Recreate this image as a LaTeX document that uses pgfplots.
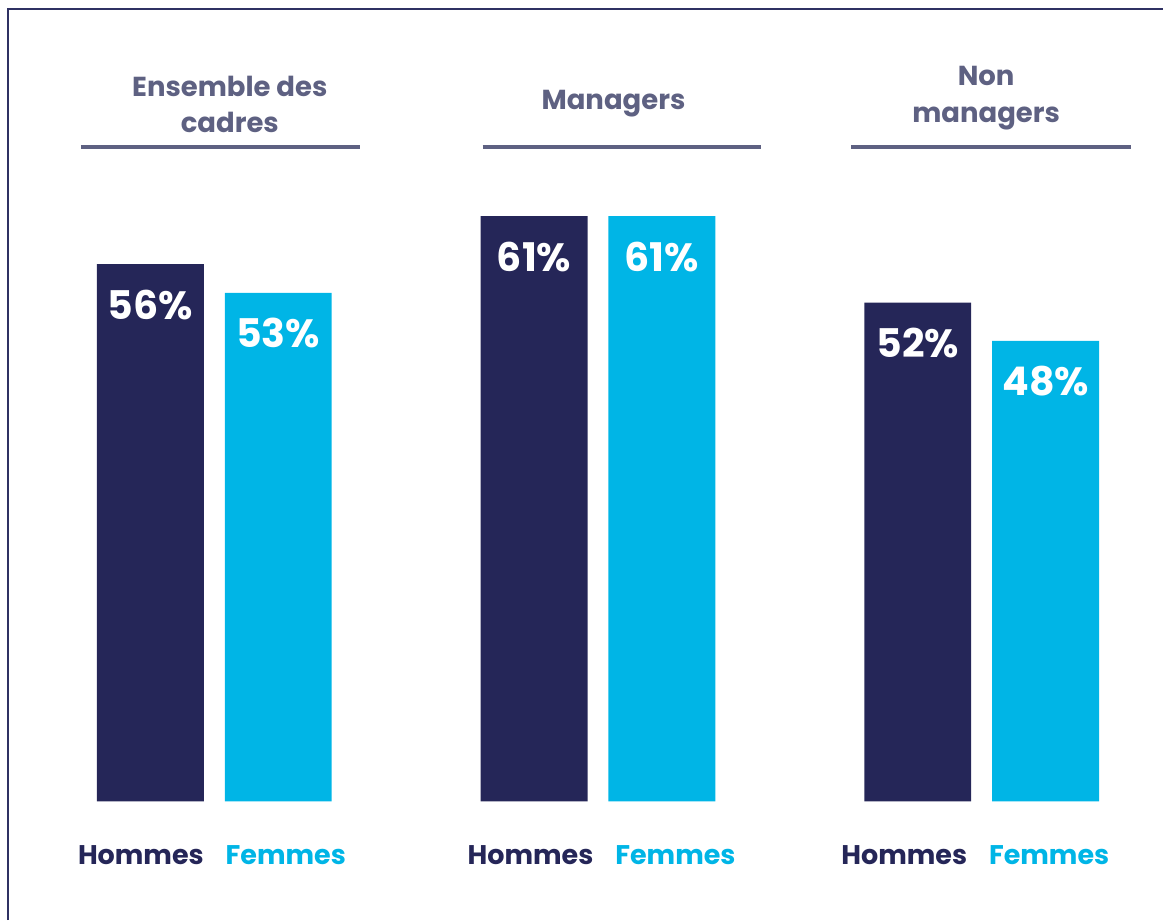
\documentclass[border=0pt]{standalone}
\usepackage{pgfplots}
\pgfplotsset{compat=1.18}
\usepackage{fontspec}
\setmainfont{Poppins}
\definecolor{navy}{HTML}{252658}
\definecolor{cyanb}{HTML}{00B5E6}
\definecolor{titlec}{HTML}{5E6182}
\definecolor{framec}{HTML}{2F3163}
\begin{document}
\begin{tikzpicture}
\begin{axis}[
  scale only axis, width=1164pt, height=921pt,
  xmin=0, xmax=1164, ymin=-12.396, ymax=83.542,
  axis line style={draw=none}, ticks=none,
  clip=false,
  /pgf/number format/assume math mode=true,
  nodes near coords={\pgfmathprintnumber{\pgfplotspointmeta}\%},
  every node near coord/.append style={anchor=base, yshift=-55pt, text=white,
     font=\fontsize{39.5}{39.5}\selectfont\bfseries, inner sep=0pt},
]
\path (rel axis cs:0,0) rectangle (rel axis cs:1,1);
\addplot[ybar, bar width=107pt, bar shift=0pt, fill=navy, draw=none]
  coordinates {(150.5,56) (534.5,61) (918.5,52)};
\addplot[ybar, bar width=107pt, bar shift=0pt, fill=cyanb, draw=none]
  coordinates {(278.5,53) (662.5,61) (1046.5,48)};
% frame
\draw[framec, line width=2pt] (axis cs:8,-12.396) -- (axis cs:8,82.604) -- (axis cs:1164,82.604);
% title rules
\draw[titlec, line width=3.5pt] (axis cs:81,68.23) -- (axis cs:360,68.23);
\draw[titlec, line width=3.5pt] (axis cs:483,68.23) -- (axis cs:762,68.23);
\draw[titlec, line width=3.5pt] (axis cs:852,68.23) -- (axis cs:1132,68.23);
% titles
\tikzset{ttl/.style={anchor=base, inner sep=0pt, text=titlec, font=\fontsize{27.5}{27.5}\selectfont\bfseries}}
\node[ttl] at (axis cs:230,73.44) {Ensemble des};
\node[ttl] at (axis cs:230,69.69) {cadres};
\node[ttl] at (axis cs:614,72.08) {Managers};
\node[ttl] at (axis cs:987,74.58) {Non};
\node[ttl] at (axis cs:987,70.73) {managers};
% category labels
\tikzset{cat/.style={anchor=base, inner sep=0pt, font=\fontsize{27}{27}\selectfont\bfseries}}
\node[cat, text=navy] at (axis cs:141,-6.56) {Hommes};
\node[cat, text=cyanb] at (axis cs:286,-6.56) {Femmes};
\node[cat, text=navy] at (axis cs:531,-6.56) {Hommes};
\node[cat, text=cyanb] at (axis cs:676,-6.56) {Femmes};
\node[cat, text=navy] at (axis cs:905,-6.56) {Hommes};
\node[cat, text=cyanb] at (axis cs:1050,-6.56) {Femmes};
\end{axis}
\end{tikzpicture}
\end{document}
